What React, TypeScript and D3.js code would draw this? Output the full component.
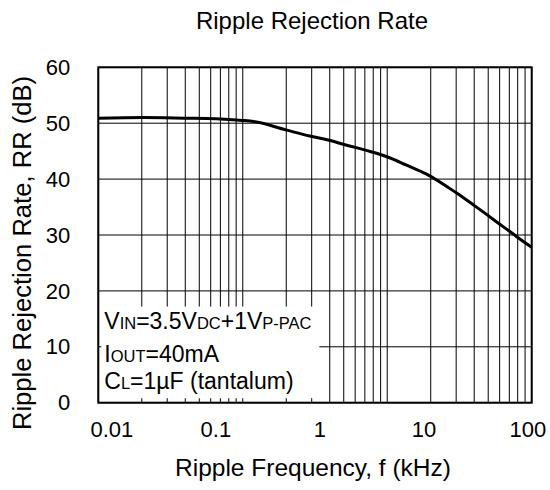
import React, { useEffect, useRef } from "react";
import * as d3 from "d3";

// Curve (kHz, dB)
const freqKHz = [0.0074, 0.02, 0.05, 0.1, 0.18, 0.23, 0.47, 0.8, 1.2, 1.7, 3.1, 4.4, 6.8, 10.6, 20.6, 29.8, 40.6, 52, 65, 78, 108.6];
const rrDb = [50.9, 51.0, 50.9, 50.8, 50.5, 50.3, 48.8, 47.7, 47.0, 46.2, 44.9, 44.0, 42.5, 40.9, 37.5, 35.4, 33.6, 32.1, 30.8, 29.7, 27.8];

const xTickValues = [0.01, 0.1, 1, 10, 100];
const xTickLabels = ["0.01", "0.1", "1", "10", "100"];
const yTickValues = [0, 10, 20, 30, 40, 50, 60];

const FONT = "'Liberation Sans', Arial, Helvetica, sans-serif";

const App: React.FC = () => {
    const svgRef = useRef<SVGSVGElement | null>(null);

    useEffect(() => {
        if (!svgRef.current) return;
        const svg = d3.select(svgRef.current);
        svg.selectAll("*").remove();

        const width = 550;
        const height = 490;
        const margin = { top: 67.3, right: 18.3, bottom: 87.3, left: 98.3 };
        const innerWidth = width - margin.left - margin.right;
        const innerHeight = height - margin.top - margin.bottom;

        const g = svg
            .append("g")
            .attr("transform", `translate(${margin.left},${margin.top})`);

        // data scale (labels follow this one)
        const x = d3.scaleLog().domain([0.0074, 108.6]).range([0, innerWidth]);
        // grid in the picture is a 3-decade log grid over the plot width
        const xGrid = d3.scaleLog().domain([1, 1000]).range([0, innerWidth]);
        const y = d3.scaleLinear().domain([0, 60]).range([innerHeight, 0]);

        // vertical grid
        g.append("g")
            .selectAll("line")
            .data(xGrid.ticks())
            .enter()
            .append("line")
            .attr("x1", (d) => xGrid(d))
            .attr("x2", (d) => xGrid(d))
            .attr("y1", 0)
            .attr("y2", innerHeight)
            .attr("stroke", "#000")
            .attr("stroke-width", 1);

        // horizontal grid
        g.append("g")
            .selectAll("line")
            .data(yTickValues)
            .enter()
            .append("line")
            .attr("x1", 0)
            .attr("x2", innerWidth)
            .attr("y1", (d) => y(d))
            .attr("y2", (d) => y(d))
            .attr("stroke", "#000")
            .attr("stroke-width", 1);

        // white box behind the conditions text
        g.append("rect")
            .attr("x", 3)
            .attr("y", y(17.2))
            .attr("width", 218)
            .attr("height", y(0.8) - y(17.2))
            .attr("fill", "#fff");

        // curve
        const pts = freqKHz.map((f, i) => ({ f, v: rrDb[i] }));
        const line = d3
            .line<{ f: number; v: number }>()
            .x((d) => x(d.f))
            .y((d) => y(d.v))
            .curve(d3.curveMonotoneX);

        g.append("path")
            .datum(pts)
            .attr("fill", "none")
            .attr("stroke", "#000")
            .attr("stroke-width", 3)
            .attr("stroke-linejoin", "round")
            .attr("d", line);

        // frame
        g.append("rect")
            .attr("x", 0)
            .attr("y", 0)
            .attr("width", innerWidth)
            .attr("height", innerHeight)
            .attr("fill", "none")
            .attr("stroke", "#000")
            .attr("stroke-width", 2);

        // x tick labels
        g.append("g")
            .selectAll("text")
            .data(xTickValues)
            .enter()
            .append("text")
            .attr("x", (d) => x(d))
            .attr("y", innerHeight + 34)
            .attr("text-anchor", "middle")
            .attr("font-family", FONT)
            .attr("font-size", 22)
            .text((_, i) => xTickLabels[i]);

        // y tick labels
        g.append("g")
            .selectAll("text")
            .data(yTickValues)
            .enter()
            .append("text")
            .attr("x", -28)
            .attr("y", (d) => y(d))
            .attr("dy", "0.35em")
            .attr("text-anchor", "end")
            .attr("font-family", FONT)
            .attr("font-size", 22)
            .text((d) => String(d));

        // titles
        svg.append("text")
            .attr("x", 312)
            .attr("y", 29)
            .attr("text-anchor", "middle")
            .attr("font-family", FONT)
            .attr("font-size", 24)
            .text("Ripple Rejection Rate");

        svg.append("text")
            .attr("x", 313)
            .attr("y", 476)
            .attr("text-anchor", "middle")
            .attr("font-family", FONT)
            .attr("font-size", 24.5)
            .text("Ripple Frequency, f (kHz)");

        svg.append("text")
            .attr("transform", `translate(31,253) rotate(-90)`)
            .attr("text-anchor", "middle")
            .attr("font-family", FONT)
            .attr("font-size", 25.6)
            .text("Ripple Rejection Rate, RR (dB)");

        // conditions text
        const lines: [string, string][][] = [
            [["V", ""], ["IN", "sub"], ["=3.5V", ""], ["DC", "sub"], ["+1V", ""], ["P-PAC", "sub"]],
            [["I", ""], ["OUT", "sub"], ["=40mA", ""]],
            [["C", ""], ["L", "sub"], ["=1\u00b5F (tantalum)", ""]],
        ];
        const baselines = [328.7, 362.5, 389];
        lines.forEach((parts, li) => {
            const t = g.append("text")
                .attr("x", 6)
                .attr("y", baselines[li] - margin.top)
                .attr("font-family", FONT)
                .attr("font-size", 23);
            parts.forEach(([s, kind]) => {
                t.append("tspan")
                    .attr("font-size", kind === "sub" ? 16.5 : 23)
                    .text(s);
            });
        });
    }, []);

    return (
        <svg
            ref={svgRef}
            width={550}
            height={490}
            viewBox="0 0 550 490"
            style={{ position: "absolute", left: 0, top: 0, background: "#fff" }}
        />
    );
};

export default App;
